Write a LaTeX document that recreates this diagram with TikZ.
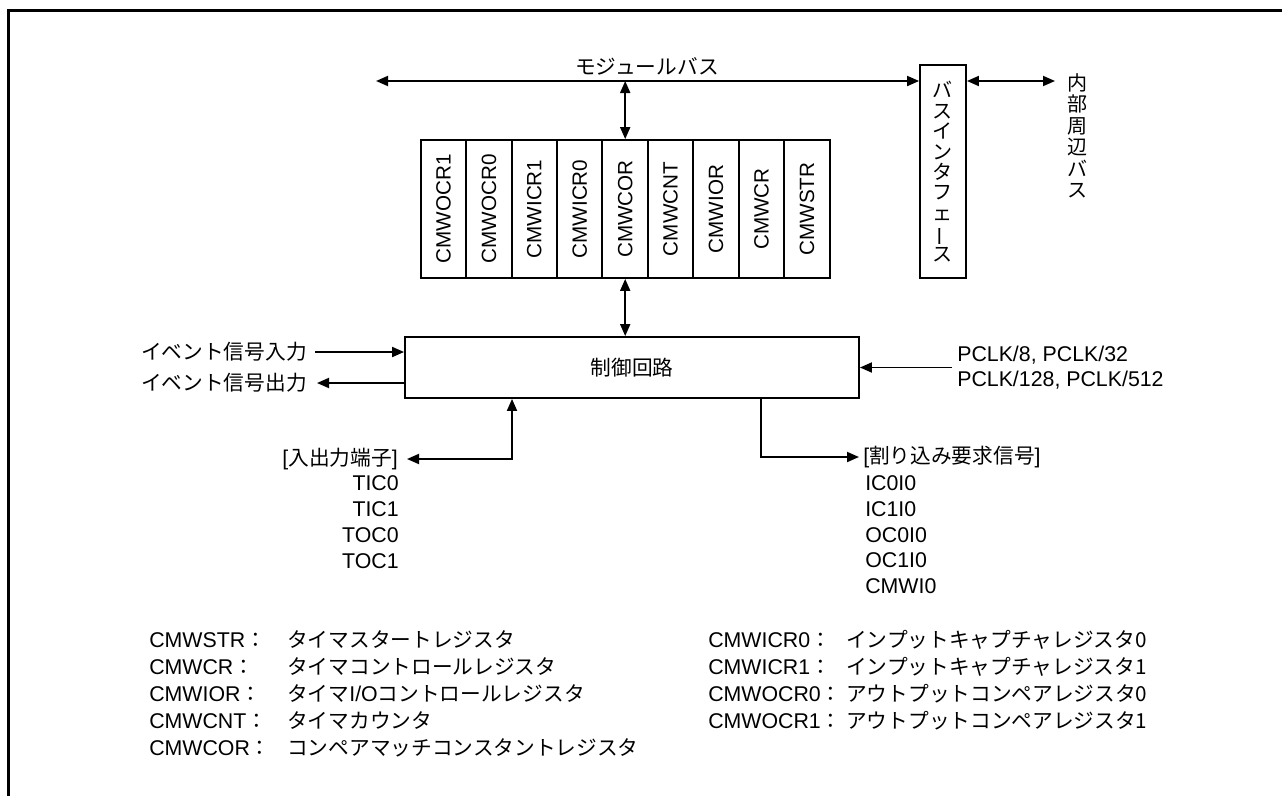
\documentclass[tikz,border=0pt]{standalone}
\usepackage{fontspec}
\usepackage{graphicx}
\setmainfont{Liberation Sans}
\newfontfamily\jp{Noto Sans CJK JP}[Scale=0.97]
\usetikzlibrary{arrows.meta}
\begin{document}
\begin{tikzpicture}[x=0.75pt,y=-0.75pt,
  every node/.style={font=\fontsize{16}{19}\selectfont},
  conn/.style={line width=1.4pt},
  arr/.style={conn,-{Triangle[length=9pt,width=7.5pt]}},
  darr/.style={conn,{Triangle[length=9pt,width=7.5pt]}-{Triangle[length=9pt,width=7.5pt]}},
  reg/.style={draw,line width=1.4pt,rotate=90,minimum width=103.5pt,minimum height=34.08pt,inner sep=0pt,font=\fontsize{15.5}{18}\selectfont},
  lbl/.style={inner sep=0pt}]
\useasboundingbox (0,0) rectangle (1282,796);
% frame
\draw[line width=2.25pt] (8.5,796) -- (8.5,10.5) -- (1282,10.5);

% registers
\node[reg] (ocr1) at (443.4,209) {CMWOCR1};
\node[reg] (ocr0) at (488.9,209) {CMWOCR0};
\node[reg] (icr1) at (534.3,209) {CMWICR1};
\node[reg] (icr0) at (579.7,209) {CMWICR0};
\node[reg] (cor)  at (625.2,209) {CMWCOR};
\node[reg] (cnt)  at (670.6,209) {CMWCNT};
\node[reg] (ior)  at (716.1,209) {CMWIOR};
\node[reg] (cr)   at (761.5,209) {CMWCR};
\node[reg] (str)  at (806.9,209) {CMWSTR};

% bus interface
\node[draw,line width=1.4pt,minimum width=34.5pt,minimum height=159.75pt,inner sep=0pt,align=center,
      font=\jp\fontsize{15.5}{15.3}\selectfont] (bif) at (943,171.5)
  {バ\\ス\\イ\\ン\\タ\\フ\\ェ\\\rotatebox[origin=c]{90}{ー}\\ス};
\node[lbl,align=center,font=\jp\fontsize{15.5}{16.1}\selectfont] (ibuslbl) at (1078,136)
  {内\\部\\周\\辺\\バ\\ス};

% control circuit
\node[draw,line width=1.4pt,minimum width=340.5pt,minimum height=45.75pt,inner sep=0pt] (ctrl) at (632,367.5) {\jp 制御回路};

% module bus
\coordinate (busL) at (376,81);
\coordinate (ibus) at (1055,81);
\node[lbl] (mbus) at (647,66) {\jp モジュールバス};
\draw[darr] (busL) -- (busL -| bif.west);
\draw[darr] (cor.east |- busL) -- (cor.east);
\draw[darr] (cor.west) -- (cor.west |- ctrl.north);
\draw[darr] (bif.east |- ibus) -- (ibus);

% event signals
\node[anchor=east,inner ysep=0pt,inner xsep=6pt] (evin) at (315,352) {\jp イベント信号入力};
\node[anchor=east,inner ysep=0pt,inner xsep=7.5pt] (evout) at (317,383) {\jp イベント信号出力};
\draw[arr] (evin) -- (ctrl.west |- evin);
\draw[arr] (ctrl.west |- evout) -- (evout);

% clocks
\node[anchor=west,inner ysep=0pt,inner xsep=3.75pt,align=left,font=\fontsize{16}{18.75}\selectfont] (pclk) at (952,367.5)
  {PCLK/8, PCLK/32\\PCLK/128, PCLK/512};
\draw[arr] (pclk) -- (pclk -| ctrl.east);

% I/O pins
\coordinate (iocorner) at (512,459);
\node[anchor=east,inner ysep=0pt,inner xsep=6.75pt] (io) at (407,459) {[{\jp 入出力端子}]};
\draw[darr] (io) -- (iocorner) -- (iocorner |- ctrl.south);
\node[lbl,anchor=east] (tic0) at (399,483) {TIC0};
\node[lbl,anchor=east] (tic1) at (399,509) {TIC1};
\node[lbl,anchor=east] (toc0) at (399,535) {TOC0};
\node[lbl,anchor=east] (toc1) at (399,561) {TOC1};

% interrupts
\coordinate (irqcorner) at (761,457);
\node[anchor=west,inner ysep=0pt,inner xsep=3pt] (irq) at (859,457) {[{\jp 割り込み要求信号}]};
\draw[arr] (irqcorner |- ctrl.south) -- (irqcorner) -- (irq);
\node[lbl,anchor=west] (ic0) at (865,483) {IC0I0};
\node[lbl,anchor=west] (ic1) at (865,509) {IC1I0};
\node[lbl,anchor=west] (oc0) at (865,535) {OC0I0};
\node[lbl,anchor=west] (oc1) at (865,560) {OC1I0};
\node[lbl,anchor=west] (cmwi) at (865,586) {CMWI0};

% legend left
\node[lbl,anchor=west] (l1n) at (149,640) {CMWSTR{\jp ：}};
\node[lbl,anchor=west] (l2n) at (149,667) {CMWCR{\jp ：}};
\node[lbl,anchor=west] (l3n) at (149,694) {CMWIOR{\jp ：}};
\node[lbl,anchor=west] (l4n) at (149,721) {CMWCNT{\jp ：}};
\node[lbl,anchor=west] (l5n) at (149,748) {CMWCOR{\jp ：}};
\node[lbl,anchor=west] (l1t) at (287,640) {\jp タイマスタートレジスタ};
\node[lbl,anchor=west] (l2t) at (287,667) {\jp タイマコントロールレジスタ};
\node[lbl,anchor=west] (l3t) at (287,694) {{\jp タイマ}I/O{\jp コントロールレジスタ}};
\node[lbl,anchor=west] (l4t) at (287,721) {\jp タイマカウンタ};
\node[lbl,anchor=west] (l5t) at (287,748) {\jp コンペアマッチコンスタントレジスタ};

% legend right
\node[lbl,anchor=west] (r1n) at (708,640) {CMWICR0{\jp ：}};
\node[lbl,anchor=west] (r2n) at (708,667) {CMWICR1{\jp ：}};
\node[lbl,anchor=west] (r3n) at (708,694) {CMWOCR0{\jp ：}};
\node[lbl,anchor=west] (r4n) at (708,721) {CMWOCR1{\jp ：}};
\node[lbl,anchor=west] (r1t) at (846,640) {\jp インプットキャプチャレジスタ0};
\node[lbl,anchor=west] (r2t) at (846,667) {\jp インプットキャプチャレジスタ1};
\node[lbl,anchor=west] (r3t) at (846,694) {\jp アウトプットコンペアレジスタ0};
\node[lbl,anchor=west] (r4t) at (846,721) {\jp アウトプットコンペアレジスタ1};
\end{tikzpicture}
\end{document}
